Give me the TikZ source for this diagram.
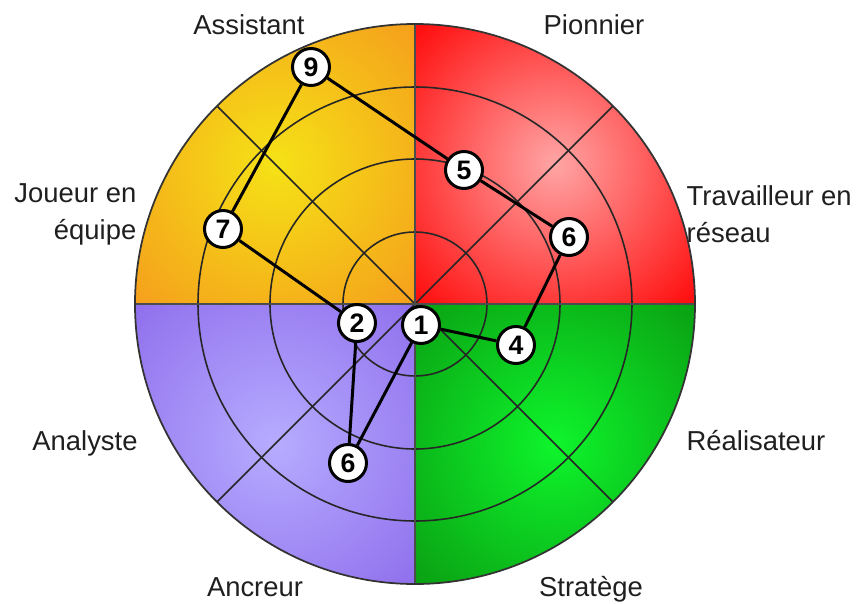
\documentclass[tikz,border=0pt]{standalone}
\usepackage{fontspec}
\setmainfont{Liberation Sans}
\usetikzlibrary{calc,positioning}

\definecolor{rougeC}{RGB}{255,165,165}
\definecolor{rougeB}{RGB}{255,16,16}
\definecolor{orangeC}{RGB}{245,226,22}
\definecolor{orangeB}{RGB}{245,158,28}
\definecolor{violetC}{RGB}{182,172,255}
\definecolor{violetB}{RGB}{143,110,236}
\definecolor{vertC}{RGB}{14,245,44}
\definecolor{vertB}{RGB}{10,158,18}
\pgfdeclareradialshading{ombrerouge}{\pgfpoint{0bp}{0bp}}{color(0bp)=(rougeC); color(34bp)=(rougeB); color(75bp)=(rougeB)}
\pgfdeclareradialshading{ombreorange}{\pgfpoint{0bp}{0bp}}{color(0bp)=(orangeC); color(36bp)=(orangeB); color(75bp)=(orangeB)}
\pgfdeclareradialshading{ombreviolet}{\pgfpoint{0bp}{0bp}}{color(0bp)=(violetC); color(36bp)=(violetB); color(75bp)=(violetB)}
\pgfdeclareradialshading{ombrevert}{\pgfpoint{0bp}{0bp}}{color(0bp)=(vertC); color(36bp)=(vertB); color(75bp)=(vertB)}

\tikzset{
  grille/.style={line width=0.45pt,black!85},
  rang/.style={circle,draw=black,fill=white,line width=0.85pt,minimum size=0.37cm,inner sep=0pt,
    font=\fontsize{7.6}{8}\selectfont\bfseries},
  lien/.style={line width=0.85pt,black},
  profil/.style={font=\fontsize{7.8}{10.6}\selectfont,text=black!88,inner sep=0pt}
}

\begin{document}
\begin{tikzpicture}
\useasboundingbox(-4.15,-2.99)rectangle(4.45,3.04);
% quadrants
\shade[shading=ombrerouge](0,0)--(2.8,0)arc(0:90:2.8)--cycle;
\shade[shading=ombreorange](0,0)--(0,2.8)arc(90:180:2.8)--cycle;
\shade[shading=ombreviolet](0,0)--(-2.8,0)arc(180:270:2.8)--cycle;
\shade[shading=ombrevert](0,0)--(0,-2.8)arc(270:360:2.8)--cycle;
\draw[grille](0,0)circle(0.72)(0,0)circle(1.45)(0,0)circle(2.17);
\draw[grille](45:2.8)--(225:2.8)(135:2.8)--(315:2.8);
\draw[line width=0.7pt,black!70](-2.8,0)--(2.8,0)(0,-2.8)--(0,2.8);
\draw[line width=0.5pt,black!80](0,0)circle(2.8);
% labels
\node[profil,anchor=base](lassist)at(-1.66,2.69){Assistant};
\node[profil,anchor=base](lpionn)at(1.79,2.69){Pionnier};
\node[profil,anchor=east,align=right](ljoueur)at(-2.78,0.895){Joueur en\\équipe};
\node[profil,anchor=west,align=left](ltrav)at(2.71,0.895){Travailleur en\\réseau};
\node[profil,anchor=base](lanal)at(-3.30,-1.46){Analyste};
\node[profil,anchor=base west](lreal)at(2.71,-1.46){Réalisateur};
\node[profil,anchor=base](lancr)at(-1.60,-2.92){Ancreur};
\node[profil,anchor=base](lstrat)at(1.76,-2.92){Stratège};
% scores
\node[rang](assist)at(-1.04,2.37){9};
\node[rang](pionn)at(0.49,1.34){5};
\node[rang](trav)at(1.54,0.67){6};
\node[rang](real)at(1.01,-0.41){4};
\node[rang](strat)at(0.06,-0.21){1};
\node[rang](ancr)at(-0.67,-1.59){6};
\node[rang](anal)at(-0.58,-0.19){2};
\node[rang](joueur)at(-1.92,0.75){7};
\draw[lien](assist)--(pionn)--(trav)--(real)--(strat)--(ancr)--(anal)--(joueur)--(assist);
\end{tikzpicture}
\end{document}
